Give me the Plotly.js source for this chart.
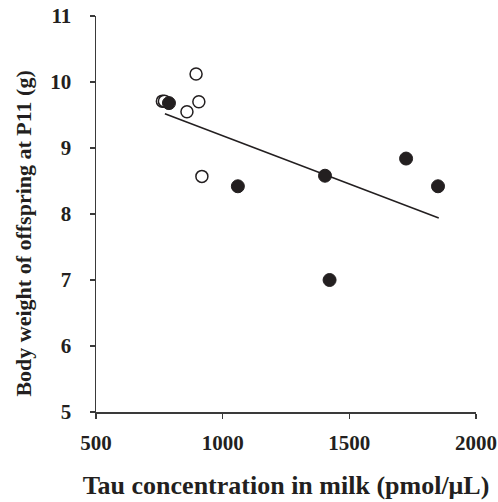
<!DOCTYPE html>
<html><head><meta charset="utf-8">
<script src="https://cdn.plot.ly/plotly-3.0.1.min.js"></script>
<style>body{margin:0;padding:0;background:#fff}#c{width:498px;height:502px}
.xtick text,.ytick text{font-weight:bold !important}</style>
</head><body><div id="c"></div>
<script>
const openX = [762, 770, 895, 906, 859, 918];
const openY = [9.71, 9.71, 10.12, 9.70, 9.55, 8.57];
const filledX = [788, 1060, 1404, 1422, 1724, 1850];
const filledY = [9.68, 8.42, 8.58, 7.00, 8.84, 8.42];
const fitX = [772, 1853];
const fitY = [9.52, 7.94];
const xTicks = [500, 1000, 1500, 2000];
const yTicks = [5, 6, 7, 8, 9, 10, 11];

const font = {family: '"Liberation Serif", "Times New Roman", serif', color: '#231f20'};
const traces = [
  {x: fitX, y: fitY, mode: 'lines', line: {color: '#231f20', width: 1.5}, hoverinfo: 'skip'},
  {x: openX, y: openY, mode: 'markers', marker: {size: 12, color: '#ffffff', line: {color: '#231f20', width: 1.5}}},
  {x: filledX, y: filledY, mode: 'markers', marker: {size: 13, color: '#231f20', line: {color: '#231f20', width: 1}}}
];
const layout = {
  width: 498, height: 502, showlegend: false,
  paper_bgcolor: '#fff', plot_bgcolor: '#fff',
  margin: {l: 96, r: 22, t: 16, b: 90},
  font: font,
  xaxis: {range: [500, 2000], tickvals: xTicks, ticktext: xTicks.map(String), showgrid: false, zeroline: false,
    showline: true, linecolor: '#3a3a3a', linewidth: 1.5, ticks: 'outside', ticklen: 5, tickcolor: '#3a3a3a', tickwidth: 1.5,
    tickfont: {family: font.family, size: 21, color: '#231f20', weight: 700}, ticklabelstandoff: 6,
    title: {text: '<b>Tau concentration in milk (pmol/μL)</b>', font: {family: font.family, size: 26, color: '#231f20'}, standoff: 22}},
  yaxis: {range: [5, 11], tickvals: yTicks, ticktext: yTicks.map(String), showgrid: false, zeroline: false,
    showline: true, linecolor: '#3a3a3a', linewidth: 1.5, ticks: 'outside', ticklen: 5, tickcolor: '#3a3a3a', tickwidth: 1.5,
    tickfont: {family: font.family, size: 21, color: '#231f20', weight: 700}, ticklabelstandoff: 14},
  annotations: [{xref: 'paper', yref: 'paper', x: -0.19, xanchor: 'center', y: 0.45, yanchor: 'middle',
    text: '<b>Body weight of offspring at P11 (g)</b>', textangle: -90, showarrow: false,
    font: {family: font.family, size: 22, color: '#231f20'}}]
};
Plotly.newPlot('c', traces, layout, {displayModeBar: false, staticPlot: true});
</script></body></html>
